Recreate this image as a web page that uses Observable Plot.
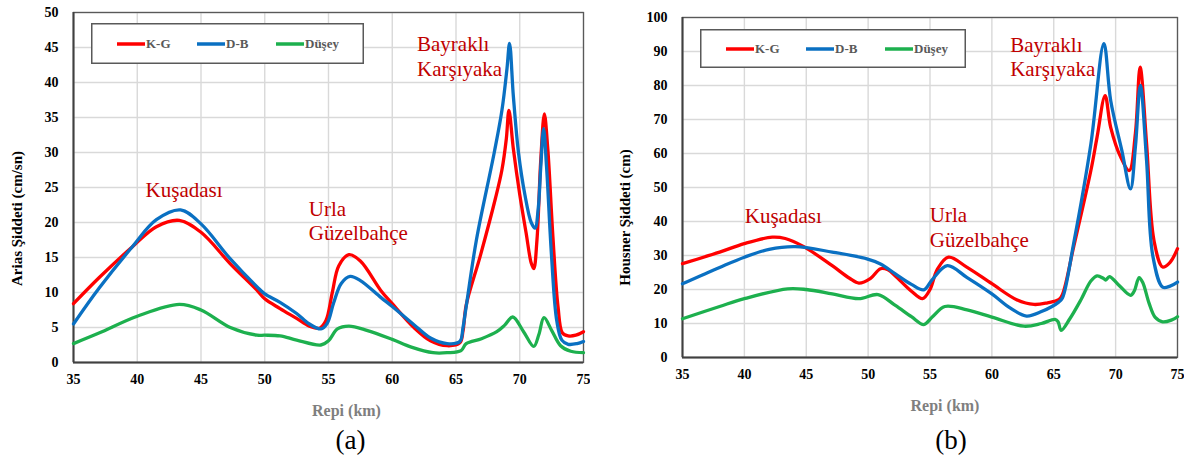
<!DOCTYPE html>
<html><head><meta charset="utf-8">
<script src="https://cdn.jsdelivr.net/npm/d3@7"></script>
<script src="https://cdn.jsdelivr.net/npm/@observablehq/plot@0.6"></script>
<style>
body{margin:0;background:#fff;}
#wrap{position:relative;width:1184px;height:459px;display:flex;overflow:hidden;}
.panel{position:relative;}
.legend{position:absolute;}
</style>
</head><body>
<div id="wrap"><div class="panel" id="pa"></div><div class="panel" id="pb"></div></div>
<script>
// ---- data ----
const xTicks = [35, 40, 45, 50, 55, 60, 65, 70, 75];
const ariasTicks = [0, 5, 10, 15, 20, 25, 30, 35, 40, 45, 50];
const housnerTicks = [0, 10, 20, 30, 40, 50, 60, 70, 80, 90, 100];
const seriesNames = ["K-G", "D-B", "Düşey"];
const seriesColors = ["#ff0000", "#0a70c2", "#1db04e"];

const ariasKG = [[35,8.4],[37,12.1],[39.6,16.5],[41.5,19.4],[43.3,20.3],[45,18.6],[47.3,14.1],[49.4,10.3],[50,9.1],[51.2,7.7],[52.5,6.3],[53.5,5.2],[54.3,4.9],[54.8,6],[55.3,10],[55.8,13.8],[56.6,15.4],[57.5,14.5],[59.1,10.3],[60,8.4],[61.7,5.0],[63,3.1],[64.3,2.4],[65.3,2.8],[65.55,4.5],[65.8,8.2],[66.9,15.2],[68.1,23.5],[68.6,27.5],[68.95,32],[69.15,36],[69.5,30.5],[70,24],[70.5,18.5],[70.9,14.2],[71.1,13.4],[71.35,17.5],[71.65,29],[71.93,35.5],[72.2,30.5],[72.6,18],[73,8],[73.35,4.2],[73.8,3.8],[74.4,3.9],[75,4.4]];
const ariasDB = [[35,5.5],[37,10.6],[39.6,16.5],[41.5,20.4],[43.4,21.8],[45,19.8],[47.3,14.8],[49.4,10.8],[50,9.8],[51.2,8.6],[52.5,7],[53.5,5.5],[54.4,4.8],[54.9,5.6],[55.4,8.5],[56,11.3],[56.7,12.3],[57.5,11.7],[59.1,9.3],[60,8],[61.7,5.4],[63,3.5],[64.3,2.7],[65.3,3.0],[65.55,5],[65.8,8],[66.6,17.5],[68,30],[68.6,36],[69.0,42],[69.2,45.6],[69.5,38],[69.9,30],[70.4,24],[70.9,20],[71.2,19.2],[71.45,22],[71.65,28],[71.87,33.4],[72.1,28],[72.5,15],[72.9,6],[73.3,3.2],[73.8,2.6],[74.5,2.7],[75,3]];
const ariasDusey = [[35,2.7],[37,4.2],[40,6.6],[43.3,8.3],[45,7.5],[47.3,5.0],[49.4,3.9],[50,3.9],[51.2,3.8],[52.5,3.2],[54.4,2.5],[55,3.1],[55.7,4.8],[56.6,5.2],[58,4.6],[60,3.3],[61.5,2.2],[63.2,1.4],[64.3,1.4],[65.4,1.7],[65.8,2.7],[67,3.4],[68.2,4.4],[68.8,5.3],[69.45,6.5],[70.3,4.4],[71.1,2.3],[71.5,4],[71.9,6.4],[72.5,4.6],[73.2,2.4],[74,1.6],[75,1.4]];

const housnerKG = [[35,27.6],[38,31],[40,33.5],[42.25,35.4],[43.3,35],[44.8,32.6],[47.1,27],[48.5,23.3],[49.25,21.9],[50.2,23.3],[51.0,26.1],[51.6,25.8],[52.2,24],[53.5,19.5],[54.4,17.3],[55,20],[55.6,26],[56.5,29.5],[58,26.5],[60,21.7],[62,17],[63.4,15.6],[64.5,16.1],[65.4,17],[65.7,18.5],[66.6,32.4],[68.0,55],[68.5,64.8],[69.15,77],[69.6,67.7],[70.4,59],[71.1,55],[71.6,66],[71.98,85.4],[72.5,63],[73.1,34.4],[73.8,26.6],[74.4,28],[75,32]];
const housnerDB = [[35,21.7],[38,26.5],[40,29.5],[42,31.8],[44.1,32.6],[47.1,31],[49.9,29],[51,27.5],[52.2,24.6],[53.5,21.5],[54.5,19.9],[55.2,23],[56.4,27],[58,23.5],[60,18.7],[61.5,14.5],[62.8,12.2],[64,13.5],[65.4,16.3],[65.7,17.5],[66.6,33.4],[68.0,62.8],[69.05,92.3],[69.6,75.6],[70.5,60.9],[71.2,49.6],[71.6,62],[72.0,80],[72.5,58],[73.0,30],[73.8,20.7],[74.4,21],[75,22.2]];
const housnerDusey = [[35,11.4],[38,15],[40,17.3],[43.5,20.2],[45,20],[47.1,18.7],[49.25,17.3],[50.8,18.5],[52.2,15.3],[53.5,12],[54.5,9.7],[55.2,12],[56.2,15],[58,14],[60,11.9],[62.6,9.2],[64,10],[65.1,11.2],[65.35,10.5],[65.6,8],[66.3,11.4],[67.2,17],[68,22.5],[68.5,24],[69.0,23.3],[69.2,22.8],[69.5,23.8],[70.2,21.5],[71.2,18.3],[71.5,19.5],[71.9,23.5],[72.2,22],[72.7,16],[73.2,11.8],[73.8,10.5],[74.5,11],[75,12]];

const ariasNotes = [
  {text: "Kuşadası", x: 40.65, y: 23.6},
  {text: "Urla", x: 53.45, y: 21.0},
  {text: "Güzelbahçe", x: 53.45, y: 17.5},
  {text: "Bayraklı", x: 61.94, y: 44.5},
  {text: "Karşıyaka", x: 61.94, y: 41.0}
];
const housnerNotes = [
  {text: "Kuşadası", x: 40.03, y: 39.5},
  {text: "Urla", x: 54.98, y: 39.8},
  {text: "Güzelbahçe", x: 54.98, y: 32.4},
  {text: "Bayraklı", x: 61.48, y: 89.8},
  {text: "Karşıyaka", x: 61.48, y: 82.9}
];

// ---- drawing ----
const SERIF = "Liberation Serif, Times New Roman, serif";

function panel(el, cfg) {
  const series = [cfg.kg, cfg.db, cfg.du];
  const F = {fontFamily: SERIF};
  const chart = Plot.plot({
    width: cfg.width, height: 459,
    marginLeft: cfg.ml, marginRight: cfg.mr, marginTop: cfg.mt, marginBottom: cfg.mb,
    style: {fontFamily: SERIF, background: "#fff", color: "#000", overflow: "visible"},
    x: {domain: [35, 75], axis: null},
    y: {domain: cfg.ydomain, axis: null},
    marks: [
      Plot.gridX(xTicks, {stroke: "#d9d9d9", strokeOpacity: 1, strokeWidth: 1.4}),
      Plot.gridY(cfg.yTicks, {stroke: "#d9d9d9", strokeOpacity: 1, strokeWidth: 1.4}),
      Plot.frame({stroke: "#595959", strokeWidth: 1.3}),
      Plot.ruleX([35], {stroke: "#404040", strokeWidth: 2}),
      Plot.ruleY([cfg.ydomain[0]], {stroke: "#404040", strokeWidth: 2}),
      ...series.map((s, i) => Plot.line(s, {x: d => d[0], y: d => d[1], stroke: seriesColors[i], strokeWidth: 3.3, curve: "catmull-rom"})),
      Plot.axisX(xTicks, {...F, tickSize: 0, tickPadding: 12, fontSize: 14, fontWeight: "bold", fill: "#000", label: null}),
      Plot.axisY(cfg.yTicks, {...F, tickSize: 0, tickPadding: 15, fontSize: 14, fontWeight: "bold", fill: "#000", label: null}),
      Plot.text(cfg.notes, {...F, x: "x", y: "y", text: "text", fill: "#c00000", fontSize: 21, textAnchor: "start", lineAnchor: "bottom"}),
      Plot.text([cfg.ylabel], {...F, text: d => d, frameAnchor: "left", rotate: -90, dx: cfg.ylx, dy: cfg.yly, fontSize: 15, fontWeight: "bold", fill: "#000", textAnchor: "middle", lineAnchor: "middle"}),
      Plot.text(["Repi (km)"], {...F, text: d => d, frameAnchor: "bottom", dx: cfg.rdx, dy: 48, fontSize: 16, fontWeight: "bold", fill: "#7f7f7f", lineAnchor: "middle"}),
      Plot.text([cfg.tag], {...F, text: d => d, frameAnchor: "bottom", dx: cfg.tdx, dy: cfg.tdy, fontSize: 27, fill: "#000", lineAnchor: "middle"})
    ]
  });
  el.appendChild(chart);

  // legend box
  const lg = d3.select(el).append("div").attr("class", "legend")
    .style("left", cfg.lgx + "px").style("top", cfg.lgy + "px");
  const svg = lg.append("svg").attr("width", cfg.lgw).attr("height", cfg.lgh);
  svg.append("rect").attr("x", 0.75).attr("y", 0.75).attr("width", cfg.lgw - 1.5).attr("height", cfg.lgh - 1.5)
    .attr("fill", "#fff").attr("stroke", "#595959").attr("stroke-width", 1.5);
  const offs = [26, 106, 185];
  seriesNames.forEach((n, i) => {
    const cy = cfg.lgh / 2 + 0.5;
    svg.append("line").attr("x1", offs[i]).attr("x2", offs[i] + 28).attr("y1", cy).attr("y2", cy)
      .attr("stroke", seriesColors[i]).attr("stroke-width", 3.5);
    svg.append("text").attr("x", offs[i] + 29).attr("y", cy).attr("dy", "0.34em")
      .attr("font-family", SERIF).attr("font-weight", "bold").attr("font-size", 13).attr("fill", "#595959").text(n);
  });
}

panel(document.getElementById("pa"), {
  width: 590, ml: 73, mr: 7, mt: 12, mb: 97, ydomain: [0, 50], yTicks: ariasTicks,
  kg: ariasKG, db: ariasDB, du: ariasDusey, notes: ariasNotes,
  ylabel: "Arias Şiddeti (cm/sn)", ylx: -56, yly: 31, rdx: 18, tag: "(a)", tdx: 22, tdy: 78,
  lgx: 91, lgy: 23, lgw: 273, lgh: 41
});
panel(document.getElementById("pb"), {
  width: 594, ml: 92, mr: 7, mt: 17, mb: 102, ydomain: [0, 100], yTicks: housnerTicks,
  kg: housnerKG, db: housnerDB, du: housnerDusey, notes: housnerNotes,
  ylabel: "Housner Şiddeti (cm)", ylx: -57, yly: 30, rdx: 15, tag: "(b)", tdx: 21, tdy: 83,
  lgx: 110, lgy: 29, lgw: 266, lgh: 39
});
</script>
</body></html>
